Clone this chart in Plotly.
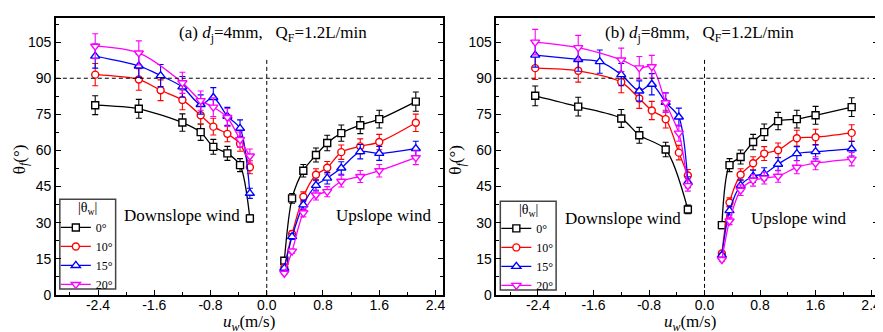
import plotly.graph_objects as go

W, H = 883, 332

# ---------------- data ----------------
series_names = ["0°", "10°", "15°", "20°"]
colors = ["#000000", "#ff0000", "#0000ff", "#ff00ff"]
symbols = ["square", "circle", "triangle-up", "triangle-down"]

# Panel (a) d_j = 4 mm
a_down_x = [
    [-2.44, -1.82, -1.20, -0.94, -0.76, -0.56, -0.38, -0.24],
    [-2.44, -1.82, -1.51, -1.20, -0.94, -0.76, -0.56, -0.38, -0.24],
    [-2.44, -1.82, -1.51, -1.20, -0.94, -0.76, -0.56, -0.38, -0.24],
    [-2.44, -1.82, -1.20, -0.94, -0.76, -0.56, -0.38, -0.24],
]
a_down_y = [
    [78.8, 77.3, 71.6, 67.6, 61.5, 58.8, 53.9, 31.8],
    [91.5, 89.5, 85.0, 81.0, 74.6, 69.9, 66.9, 62.8, 53.0],
    [99.2, 95.1, 91.1, 86.4, 79.1, 82.0, 74.2, 69.2, 42.2],
    [103.3, 100.5, 88.1, 80.7, 78.0, 73.7, 64.5, 57.7],
]
a_down_err = [
    [3.9, 3.9, 3.6, 3.4, 3.1, 2.9, 2.7, 1.6],
    [4.6, 4.5, 4.3, 4.1, 3.7, 3.5, 3.3, 3.1, 2.7],
    [5.0, 4.8, 4.6, 4.3, 4.0, 4.1, 3.7, 3.5, 2.1],
    [5.2, 5.0, 4.4, 4.0, 3.9, 3.7, 3.2, 2.9],
]
up_x = [0.25, 0.36, 0.52, 0.70, 0.86, 1.06, 1.33, 1.60, 2.12]
a_up_y = [
    [14.2, 40.1, 51.6, 58.1, 63.1, 67.2, 70.5, 73.0, 80.3],
    [11.5, 25.3, 40.8, 49.9, 52.8, 59.3, 61.7, 63.5, 71.5],
    [11.1, 24.2, 37.4, 45.5, 48.5, 52.7, 59.5, 58.8, 60.8],
    [9.0, 18.2, 34.1, 41.5, 42.9, 47.2, 49.2, 51.6, 57.0],
]
a_up_err = [
    [0.7, 2.0, 2.6, 2.9, 3.2, 3.4, 3.5, 3.7, 4.0],
    [0.6, 1.3, 2.0, 2.5, 2.6, 3.0, 3.1, 3.2, 3.6],
    [0.6, 1.2, 1.9, 2.3, 2.4, 2.6, 3.0, 2.9, 3.0],
    [0.5, 0.9, 1.7, 2.1, 2.1, 2.4, 2.5, 2.6, 2.9],
]

# Panel (b) d_j = 8 mm
b_down_x = [
    [-2.44, -1.82, -1.20, -0.94, -0.56, -0.24],
    [-2.44, -1.82, -1.20, -0.94, -0.76, -0.56, -0.37, -0.24],
    [-2.44, -1.82, -1.51, -1.20, -0.94, -0.76, -0.56, -0.37, -0.24],
    [-2.44, -1.82, -1.20, -0.94, -0.76, -0.56, -0.37, -0.24],
]
b_down_y = [
    [82.7, 78.2, 73.3, 66.3, 60.4, 35.5],
    [94.2, 93.1, 88.4, 81.6, 76.6, 73.0, 59.1, 49.6],
    [99.6, 97.8, 96.9, 91.5, 84.7, 87.5, 80.0, 73.9, 46.8],
    [105.0, 102.7, 97.6, 94.3, 94.8, 79.8, 67.2, 45.4],
]
b_down_err = [
    [4.1, 3.9, 3.7, 3.3, 3.0, 1.8],
    [4.7, 4.7, 4.4, 4.1, 3.8, 3.7, 3.0, 2.5],
    [5.0, 4.9, 4.8, 4.6, 4.2, 4.4, 4.0, 3.7, 2.3],
    [5.3, 5.1, 4.9, 4.7, 4.7, 4.0, 3.4, 2.3],
]
b_up_y = [
    [29.0, 53.9, 57.3, 63.5, 67.6, 72.2, 73.0, 74.6, 78.0],
    [17.2, 38.4, 49.9, 54.7, 58.7, 60.1, 65.1, 65.5, 67.3],
    [16.5, 35.0, 45.5, 49.3, 50.3, 54.3, 58.7, 59.5, 60.7],
    [14.7, 30.7, 43.5, 47.6, 48.5, 49.3, 53.0, 54.7, 56.4],
]
b_up_err = [
    [1.5, 2.7, 2.9, 3.2, 3.4, 3.6, 3.7, 3.7, 3.9],
    [0.9, 1.9, 2.5, 2.7, 2.9, 3.0, 3.3, 3.3, 3.4],
    [0.8, 1.8, 2.3, 2.5, 2.5, 2.7, 2.9, 3.0, 3.0],
    [0.7, 1.5, 2.2, 2.4, 2.4, 2.5, 2.7, 2.7, 2.8],
]

x_tickvals = [-2.4, -1.6, -0.8, 0.0, 0.8, 1.6, 2.4]
x_ticktext = ["-2.4", "-1.6", "-0.8", "0.0", "0.8", "1.6", "2.4"]
x_minor = [-2.8, -2.0, -1.2, -0.4, 0.4, 1.2, 2.0]
y_tickvals = [0, 15, 30, 45, 60, 75, 90, 105]
y_minor = [7.5, 22.5, 37.5, 52.5, 67.5, 82.5, 97.5, 112.5]

SERIF = "Liberation Serif, Times New Roman, serif"
SANS = "Liberation Sans, Arial, sans-serif"

fig = go.Figure()


def add_series(xs, ys, errs, i, xa, ya, legend, show):
    fig.add_trace(go.Scatter(
        x=xs, y=ys, mode="lines+markers",
        name=series_names[i], legend=legend, showlegend=show,
        legendgroup=legend + str(i),
        xaxis=xa, yaxis=ya,
        line=dict(color=colors[i], width=1.3, shape="spline", smoothing=0.8),
        marker=dict(symbol=symbols[i], size=7 if i < 2 else 8, color="white",
                    line=dict(color=colors[i], width=1.4)),
        error_y=dict(type="data", array=errs, visible=True, color=colors[i],
                     thickness=1.1, width=3),
    ))


for i in range(4):
    add_series(a_down_x[i], a_down_y[i], a_down_err[i], i, "x", "y", "legend", True)
    add_series(up_x, a_up_y[i], a_up_err[i], i, "x", "y", "legend", False)
    add_series(b_down_x[i], b_down_y[i], b_down_err[i], i, "x2", "y2", "legend2", True)
    add_series(up_x, b_up_y[i], b_up_err[i], i, "x2", "y2", "legend2", False)

xdomL = [48 / W, 436 / W]
xdomR = [490 / W, 873 / W]
ydom = [1 - 294 / H, 1 - 10.3 / H]


def xaxis(domain, anchor):
    return dict(domain=domain, anchor=anchor, range=[-3.0, 2.5],
                tickmode="array", tickvals=x_tickvals, ticktext=x_ticktext,
                ticks="inside", ticklen=5, tickwidth=1.2, tickcolor="black",
                minor=dict(tickvals=x_minor, ticks="inside", ticklen=3, tickcolor="black"),
                showline=True, linecolor="black", linewidth=1.5, mirror=True,
                showgrid=False, zeroline=False, ticklabelstandoff=-3,
                ticklabeloverflow="allow",
                tickfont=dict(family=SANS, size=14, color="black"))


def yaxis(anchor):
    return dict(domain=ydom, anchor=anchor, range=[0, 115],
                tickmode="array", tickvals=y_tickvals,
                ticks="inside", ticklen=5, tickwidth=1.2, tickcolor="black",
                minor=dict(tickvals=y_minor, ticks="inside", ticklen=3, tickcolor="black"),
                showline=True, linecolor="black", linewidth=1.5, mirror="ticks",
                showgrid=False, zeroline=False,
                tickfont=dict(family=SANS, size=14, color="black"))


shapes = []
for xr, yr in (("x", "y"), ("x2", "y2")):
    shapes.append(dict(type="line", xref=xr, yref=yr, x0=-3.0, x1=2.37, y0=90, y1=90,
                       line=dict(color="black", width=1, dash="4px,3px")))
    shapes.append(dict(type="line", xref=xr, yref=yr, x0=0, x1=0, y0=0, y1=98,
                       line=dict(color="black", width=1, dash="4px,3px")))

# legend frames (box around legend incl. its title)
for (x0, x1, y0, y1) in ((52, 108, 196, 288), (494, 550, 198, 289)):
    shapes.append(dict(type="rect", xref="paper", yref="paper",
                       x0=x0 / W, x1=x1 / W, y0=1 - y1 / H, y1=1 - y0 / H,
                       line=dict(color="#444444", width=1.5), fillcolor="white",
                       layer="below"))


def ann(text, xref, yref, x, y, size, angle=0):
    return dict(text=text, xref=xref, yref=yref, x=x, y=y, showarrow=False,
                xanchor="center", yanchor="middle", textangle=angle,
                font=dict(family=SERIF, size=size, color="black"))


annotations = [
    ann("(a) <i>d</i><sub>j</sub>=4mm,\u00a0\u00a0\u00a0Q<sub>F</sub>=1.2L/min",
        "x", "y", 0.09, 108.5, 17),
    ann("(b) <i>d</i><sub>j</sub>=8mm,\u00a0\u00a0\u00a0Q<sub>F</sub>=1.2L/min",
        "x2", "y2", -0.07, 108.5, 17),
    ann("Downslope wind", "x", "y", -1.21, 32.8, 17),
    ann("Upslope wind", "x", "y", 1.66, 32.8, 17),
    ann("Downslope wind", "x2", "y2", -1.18, 31.6, 17),
    ann("Upslope wind", "x2", "y2", 1.36, 31.6, 17),
    ann("<i>u</i><sub><i>w</i></sub>(m/s)", "paper", "paper", 242 / W, 1 - 323 / H, 17),
    ann("<i>u</i><sub><i>w</i></sub>(m/s)", "paper", "paper", 684 / W, 1 - 323 / H, 17),
    ann("θ<sub><i>f</i></sub>(°)", "paper", "paper", 13 / W, 1 - 155 / H, 17, -90),
    ann("θ<sub><i>f</i></sub>(°)", "paper", "paper", 451 / W, 1 - 155 / H, 17, -90),
    # legend titles
    ann("|θ<sub>w</sub>|", "paper", "paper", 80 / W, 1 - 205 / H, 14),
    ann("|θ<sub>w</sub>|", "paper", "paper", 522 / W, 1 - 207 / H, 14),
]


def legend_cfg(x_px, y_px):
    return dict(x=x_px / W, y=1 - y_px / H, xanchor="left", yanchor="top",
                bgcolor="rgba(0,0,0,0)", borderwidth=0, maxheight=200,
                font=dict(family=SERIF, size=12, color="black"),
                itemwidth=30, tracegroupgap=0, traceorder="normal")


fig.update_layout(
    width=W, height=H,
    margin=dict(l=0, r=0, t=0, b=0),
    paper_bgcolor="white", plot_bgcolor="white",
    xaxis=xaxis(xdomL, "y"), yaxis=yaxis("x"),
    xaxis2=xaxis(xdomR, "y2"), yaxis2=yaxis("x2"),
    shapes=shapes, annotations=annotations,
    legend=legend_cfg(48, 210), legend2=legend_cfg(490, 211),
)

fig.write_html("out.html")
